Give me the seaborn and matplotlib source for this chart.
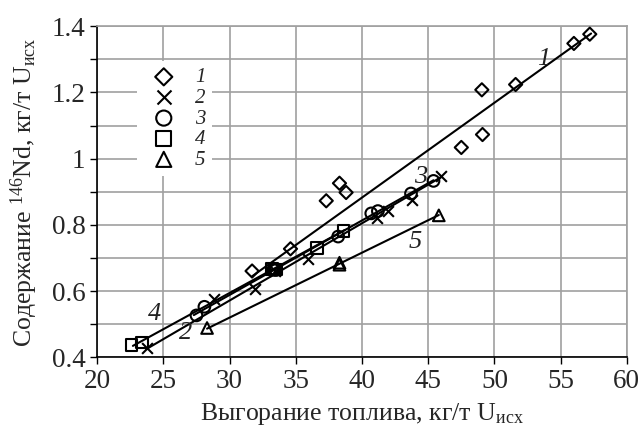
import matplotlib
matplotlib.use('Agg')
import matplotlib.pyplot as plt
import seaborn as sns
import pandas as pd
from matplotlib.ticker import MultipleLocator, FormatStrFormatter

# Данные
s1_x = [31.7, 34.6, 37.3, 38.3, 38.8, 47.5, 49.1, 49.05, 51.6, 56.0, 57.2]
s1_y = [0.661, 0.728, 0.873, 0.926, 0.898, 1.034, 1.073, 1.208, 1.224, 1.348, 1.376]
s2_x = [23.75, 28.8, 31.9, 33.4, 35.95, 41.1, 42.0, 43.8, 46.0]
s2_y = [0.428, 0.578, 0.607, 0.662, 0.696, 0.822, 0.842, 0.876, 0.948]
s3_x = [27.5, 28.1, 33.3, 33.5, 38.2, 40.7, 41.2, 43.7, 45.4]
s3_y = [0.527, 0.553, 0.665, 0.664, 0.765, 0.835, 0.842, 0.895, 0.933]
s4_x = [22.6, 23.4, 33.2, 33.4, 33.5, 36.6, 38.6]
s4_y = [0.438, 0.445, 0.668, 0.665, 0.666, 0.731, 0.782]
s5_x = [28.3, 38.3, 38.3, 45.8]
s5_y = [0.489, 0.686, 0.680, 0.829]

# Линии аппроксимации (концы отрезков)
fit1_x, fit1_y = [31.7, 57.3], [0.645, 1.378]
fit2_x, fit2_y = [23.7, 46.0], [0.425, 0.945]
fit3_x, fit3_y = [27.3, 45.4], [0.528, 0.935]
fit4_x, fit4_y = [22.7, 38.7], [0.435, 0.785]
fit5_x, fit5_y = [28.3, 45.8], [0.487, 0.830]

labels = ['1', '2', '3', '4', '5']
markers = ['D', 'x', 'o', 's', '^']
sizes = [45, 60, 70, 70, 70]

sns.set_style('white')
plt.rcParams['font.family'] = ['Liberation Serif', 'DejaVu Serif']
plt.rcParams['mathtext.fontset'] = 'custom'
plt.rcParams['mathtext.rm'] = 'Liberation Serif'
plt.rcParams['mathtext.it'] = 'Liberation Serif:italic'

fig = plt.figure(figsize=(6.39, 4.37), dpi=100)
ax = fig.add_axes([0.152, 0.182, 0.829, 0.758])

series = [(s1_x, s1_y), (s2_x, s2_y), (s3_x, s3_y), (s4_x, s4_y), (s5_x, s5_y)]
fits = [(fit1_x, fit1_y), (fit2_x, fit2_y), (fit3_x, fit3_y), (fit4_x, fit4_y), (fit5_x, fit5_y)]

for (fx, fy) in fits:
    sns.lineplot(x=fx, y=fy, ax=ax, color='black', lw=1.5, zorder=3)

for (sx, sy), lab, m, sz in zip(series, labels, markers, sizes):
    df = pd.DataFrame({'x': sx, 'y': sy})
    if m == 'x':
        sns.scatterplot(data=df, x='x', y='y', ax=ax, marker=m, s=sz, color='black',
                        linewidth=1.5, label=lab, zorder=4)
    else:
        sns.scatterplot(data=df, x='x', y='y', ax=ax, marker=m, s=sz, facecolor='none',
                        edgecolor='black', linewidth=1.5, label=lab, zorder=4)

# подписи линий
lbl = dict(fontsize=19, style='italic', family='Liberation Serif', color='#222222')
ax.text(53.2, 1.30, '1', ha='left', va='center', **lbl)
ax.text(43.9, 0.945, '3', ha='left', va='center', **lbl)
ax.text(43.5, 0.75, '5', ha='left', va='center', **lbl)
ax.text(24.3, 0.53, '4', ha='center', va='center', **lbl)
ax.text(26.7, 0.474, '2', ha='center', va='center', **lbl)

ax.set_xlim(20, 60)
ax.set_ylim(0.4, 1.4)
ax.xaxis.set_major_locator(MultipleLocator(5))
ax.yaxis.set_major_locator(MultipleLocator(0.2))
ax.yaxis.set_minor_locator(MultipleLocator(0.1))
ax.yaxis.set_major_formatter(FormatStrFormatter('%g'))
ax.grid(True, which='both', color='#a0a0a0', lw=1.2)
ax.set_axisbelow(True)
ax.tick_params(axis='both', which='both', direction='out', length=5, width=1,
               color='black', labelsize=19.5, left=True, bottom=True)
for t in ax.get_xticklabels() + ax.get_yticklabels():
    t.set_family('Liberation Serif')
for side in ['top', 'right']:
    ax.spines[side].set_color('#a0a0a0')
    ax.spines[side].set_linewidth(1.2)
for side in ['left', 'bottom']:
    ax.spines[side].set_color('black')
    ax.spines[side].set_linewidth(1.2)

ax.set_xlabel(r'Выгорание топлива, кг/т U$_{\mathrm{исх}}$', fontsize=18.5, labelpad=5)
ax.set_ylabel(r'Содержание $^{146}$Nd, кг/т U$_{\mathrm{исх}}$', fontsize=18.5, labelpad=8)

leg = ax.legend(loc='upper left', bbox_to_anchor=(0.055, 0.925), frameon=True,
                facecolor='white', edgecolor='none', framealpha=1, fancybox=False,
                prop={'style': 'italic', 'size': 15, 'family': 'Liberation Serif'},
                handletextpad=0.5, labelspacing=0.05, borderpad=0.3, markerscale=1.3)
leg.set_zorder(5)

plt.savefig('out.png', dpi=100)
